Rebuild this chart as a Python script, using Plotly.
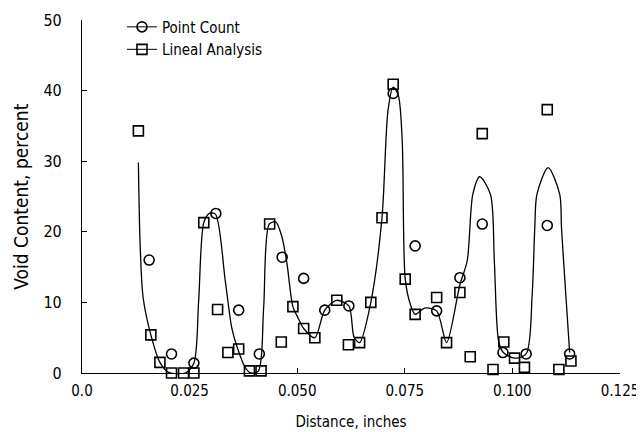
import plotly.graph_objects as go

# Point Count (circles)
pc_x = [0.0156, 0.0208, 0.0260, 0.0311, 0.0364, 0.0412, 0.0465, 0.0515, 0.0564, 0.0620,
        0.0723, 0.0774, 0.0824, 0.0878, 0.0930, 0.0978, 0.1032, 0.1081, 0.1133]
pc_y = [16.0, 2.7, 1.4, 22.6, 8.9, 2.7, 16.4, 13.4, 8.9, 9.5,
        39.6, 18.0, 8.8, 13.5, 21.1, 2.9, 2.7, 20.9, 2.7]

# Lineal Analysis (squares)
la_x = [0.0131, 0.0160, 0.0181, 0.0208, 0.0236, 0.0260, 0.0283, 0.0315, 0.0339, 0.0364,
        0.0389, 0.0416, 0.0436, 0.0463, 0.0490, 0.0515, 0.0541, 0.0592, 0.0619, 0.0645,
        0.0671, 0.0697, 0.0723, 0.0751, 0.0774, 0.0824, 0.0847, 0.0878, 0.0902, 0.0930,
        0.0955, 0.0980, 0.1005, 0.1028, 0.1081, 0.1108, 0.1136]
la_y = [34.3, 5.4, 1.5, 0.0, 0.0, 0.0, 21.3, 9.0, 2.9, 3.4,
        0.3, 0.3, 21.1, 4.4, 9.4, 6.3, 5.0, 10.3, 4.0, 4.3,
        10.0, 22.0, 40.9, 13.3, 8.3, 10.7, 4.3, 11.4, 2.3, 33.9,
        0.5, 4.4, 2.1, 0.8, 37.3, 0.5, 1.7]

# Faired curve
curve_x = [0.0131, 0.0135, 0.0142, 0.0160, 0.0181, 0.0201, 0.0240, 0.0260, 0.0271, 0.0283,
           0.0296, 0.0310, 0.0333, 0.0348, 0.0362, 0.0379, 0.0392, 0.0410, 0.0422, 0.0435,
           0.0450, 0.0464, 0.0476, 0.0490, 0.0502, 0.0515, 0.0541, 0.0564, 0.0592, 0.0620,
           0.0632, 0.0645, 0.0671, 0.0697, 0.0711, 0.0723, 0.0735, 0.0744, 0.0751, 0.0763,
           0.0774, 0.0796, 0.0824, 0.0847, 0.0878, 0.0895, 0.0908, 0.0924, 0.0949, 0.0958,
           0.0968, 0.0979, 0.1005, 0.1032, 0.1046, 0.1052, 0.1057, 0.1083, 0.1110, 0.1114,
           0.1124, 0.1133]
curve_y = [29.8, 18.3, 10.7, 5.4, 1.5, 0.1, 0.0, 1.4, 10.2, 21.3,
           22.6, 22.5, 13.0, 6.4, 3.4, 0.8, 0.0, 0.3, 9.2, 21.1,
           21.4, 19.4, 15.6, 9.4, 7.8, 6.3, 5.0, 8.9, 10.3, 9.5,
           5.1, 4.3, 10.0, 22.0, 37.2, 40.5, 39.3, 32.9, 13.3, 9.7,
           8.3, 9.2, 8.8, 4.3, 12.5, 15.9, 25.3, 27.8, 25.3, 15.9,
           4.5, 2.9, 2.1, 2.7, 11.2, 20.6, 25.3, 29.1, 25.3, 20.6,
           11.2, 2.9]

x_ticks = [0.0, 0.025, 0.050, 0.075, 0.100, 0.125]
x_tick_labels = ["0.0", "0.025", "0.050", "0.075", "0.100", "0.125"]
y_ticks = [0, 10, 20, 30, 40, 50]

FONT = "DejaVu Sans Condensed, Liberation Sans Narrow, Arial Narrow, sans-serif"

fig = go.Figure()

fig.add_trace(go.Scatter(
    x=curve_x, y=curve_y, mode="lines",
    line=dict(color="black", width=1.3, shape="spline", smoothing=0.8),
    showlegend=False, hoverinfo="skip"))

fig.add_trace(go.Scatter(
    x=pc_x, y=pc_y, mode="markers", showlegend=False, cliponaxis=False,
    marker=dict(symbol="circle-open", size=10, color="black", line=dict(width=1.6))))

fig.add_trace(go.Scatter(
    x=la_x, y=la_y, mode="markers", showlegend=False, cliponaxis=False,
    marker=dict(symbol="square-open", size=10, color="black", line=dict(width=1.6))))

# legend entries
fig.add_trace(go.Scatter(
    x=[None], y=[None], mode="lines+markers", name="Point Count",
    line=dict(color="black", width=1),
    marker=dict(symbol="circle-open", size=10, color="black", line=dict(width=1.6))))
fig.add_trace(go.Scatter(
    x=[None], y=[None], mode="lines+markers", name="Lineal Analysis",
    line=dict(color="black", width=1),
    marker=dict(symbol="square-open", size=10, color="black", line=dict(width=1.6))))

fig.update_layout(
    width=644, height=432,
    margin=dict(l=74, r=32, t=12, b=67, autoexpand=False),
    paper_bgcolor="white", plot_bgcolor="white",
    font=dict(family=FONT, color="black", size=14),
    legend=dict(x=0.177, y=0.994, xref="container", yref="container",
                xanchor="left", yanchor="top",
                bgcolor="rgba(0,0,0,0)", font=dict(size=15, family=FONT),
                itemwidth=30, tracegroupgap=0),
    showlegend=True,
    annotations=[dict(
        text="Void Content, percent", textangle=-90,
        xref="paper", yref="paper", x=-0.115, y=0.5,
        xanchor="center", yanchor="middle", showarrow=False,
        font=dict(size=19, family=FONT, color="black"))],
)

fig.update_xaxes(
    range=[0, 0.125], tickvals=x_ticks, ticktext=x_tick_labels,
    showline=True, linecolor="black", linewidth=1.2, mirror=False,
    ticks="inside", ticklen=5, tickcolor="black", showgrid=False, zeroline=False,
    ticklabelstandoff=4,
    tickfont=dict(size=15, family=FONT),
    title=dict(text="Distance, inches", font=dict(size=15, family=FONT), standoff=17))

fig.update_yaxes(
    range=[0, 50], tickvals=y_ticks,
    showline=True, linecolor="black", linewidth=1.2, mirror=False,
    ticks="inside", ticklen=5, tickcolor="black", showgrid=False, zeroline=False,
    ticklabelstandoff=16,
    tickfont=dict(size=16, family=FONT))

fig.write_html("out.html")
